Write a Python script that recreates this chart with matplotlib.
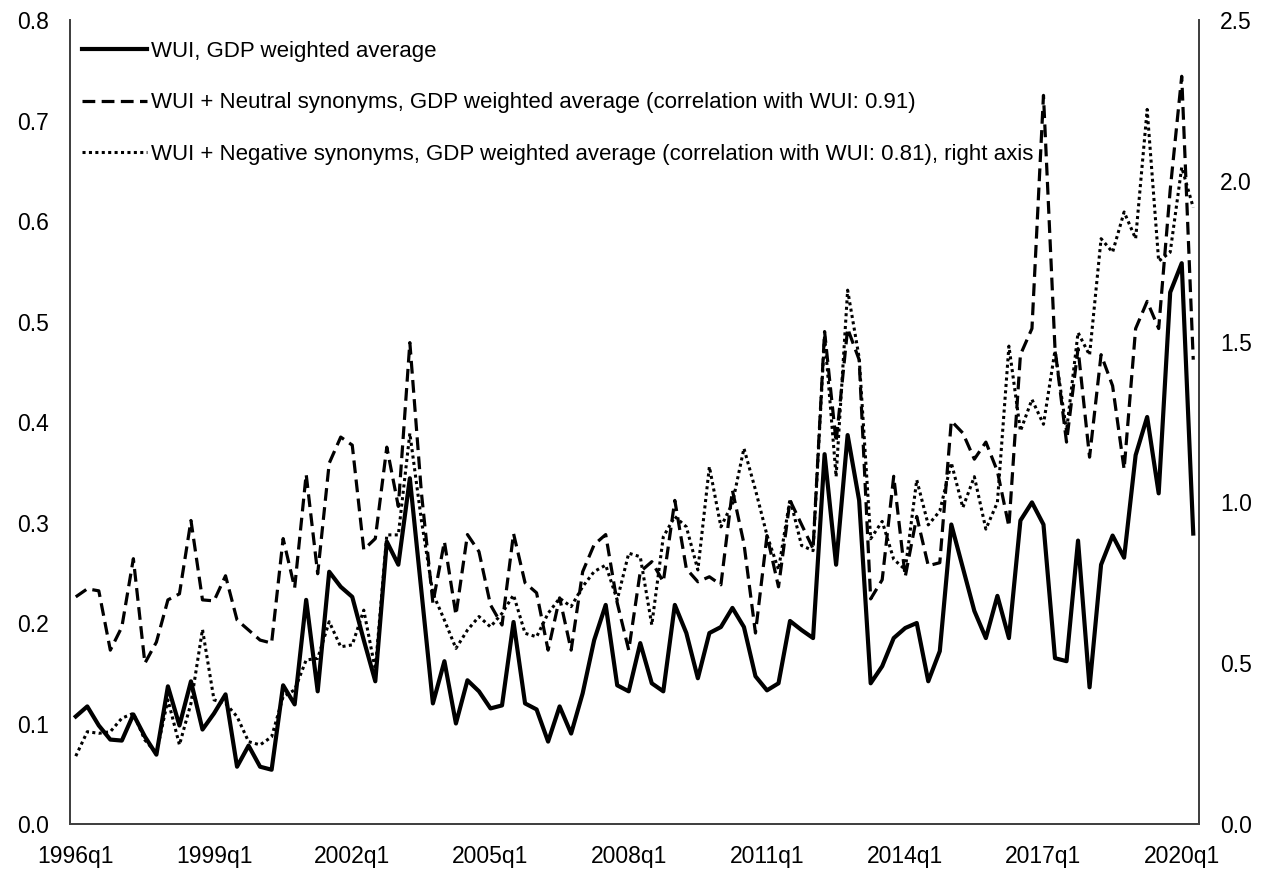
import matplotlib.pyplot as plt
import numpy as np

plt.rcParams['font.family'] = ['Liberation Sans', 'DejaVu Sans']

# quarterly categories, 1996q1 .. 2020q2
quarters = [f"{y}q{q}" for y in range(1996, 2021) for q in range(1, 5)][:98]

# WUI, GDP weighted average (left axis)
wui = [0.107, 0.117, 0.098, 0.084, 0.083, 0.109, 0.087, 0.069, 0.137, 0.098,
       0.142, 0.094, 0.110, 0.129, 0.057, 0.078, 0.057, 0.054, 0.138, 0.119,
       0.223, 0.132, 0.251, 0.236, 0.226, 0.183, 0.142, 0.281, 0.258, 0.344,
       0.232, 0.120, 0.162, 0.100, 0.143, 0.132, 0.115, 0.118, 0.201, 0.120,
       0.114, 0.082, 0.117, 0.090, 0.130, 0.183, 0.218, 0.138, 0.132, 0.180,
       0.140, 0.132, 0.218, 0.190, 0.145, 0.190, 0.196, 0.215, 0.196, 0.147,
       0.133, 0.140, 0.202, 0.193, 0.185, 0.368, 0.258, 0.387, 0.322, 0.140,
       0.157, 0.185, 0.195, 0.200, 0.142, 0.172, 0.298, 0.255, 0.212, 0.185,
       0.227, 0.185, 0.302, 0.320, 0.298, 0.165, 0.162, 0.282, 0.136, 0.258,
       0.287, 0.265, 0.367, 0.405, 0.329, 0.529, 0.558, 0.289]

# WUI + neutral synonyms (left axis)
wui_neutral = [0.226, 0.234, 0.232, 0.173, 0.196, 0.264, 0.160, 0.181, 0.223, 0.229,
               0.302, 0.223, 0.222, 0.247, 0.203, 0.193, 0.183, 0.180, 0.284, 0.235,
               0.348, 0.249, 0.359, 0.385, 0.377, 0.273, 0.284, 0.375, 0.316, 0.479,
               0.330, 0.220, 0.281, 0.208, 0.288, 0.271, 0.218, 0.198, 0.289, 0.240,
               0.230, 0.173, 0.225, 0.173, 0.251, 0.278, 0.288, 0.220, 0.173, 0.251,
               0.261, 0.241, 0.322, 0.254, 0.241, 0.246, 0.238, 0.332, 0.279, 0.190,
               0.287, 0.236, 0.322, 0.298, 0.274, 0.490, 0.380, 0.493, 0.462, 0.224,
               0.243, 0.346, 0.246, 0.306, 0.257, 0.260, 0.401, 0.389, 0.363, 0.380,
               0.351, 0.296, 0.467, 0.493, 0.725, 0.473, 0.380, 0.473, 0.365, 0.467,
               0.436, 0.353, 0.493, 0.520, 0.493, 0.631, 0.744, 0.462]

# WUI + negative synonyms (right axis)
wui_negative = [0.211, 0.287, 0.282, 0.287, 0.329, 0.344, 0.261, 0.220, 0.386, 0.246,
                0.375, 0.605, 0.386, 0.375, 0.334, 0.256, 0.246, 0.271, 0.396, 0.417,
                0.510, 0.515, 0.629, 0.551, 0.557, 0.665, 0.480, 0.899, 0.899, 1.215,
                0.945, 0.717, 0.634, 0.546, 0.603, 0.645, 0.613, 0.655, 0.712, 0.593,
                0.582, 0.655, 0.702, 0.676, 0.738, 0.785, 0.805, 0.697, 0.842, 0.831,
                0.619, 0.893, 0.956, 0.924, 0.790, 1.111, 0.924, 0.997, 1.168, 1.039,
                0.898, 0.791, 1.011, 0.866, 0.850, 1.520, 1.080, 1.660, 1.450, 0.887,
                0.941, 0.823, 0.791, 1.070, 0.930, 0.973, 1.123, 0.984, 1.080, 0.917,
                1.000, 1.486, 1.222, 1.320, 1.243, 1.472, 1.222, 1.528, 1.458, 1.820,
                1.778, 1.903, 1.820, 2.222, 1.750, 1.778, 2.042, 1.917]

tick_labels = ["1996q1", "1999q1", "2002q1", "2005q1", "2008q1",
               "2011q1", "2014q1", "2017q1", "2020q1"]
left_ticks = [0.0, 0.1, 0.2, 0.3, 0.4, 0.5, 0.6, 0.7, 0.8]
right_ticks = [0.0, 0.5, 1.0, 1.5, 2.0, 2.5]

labels = ["WUI, GDP weighted average",
          "WUI + Neutral synonyms, GDP weighted average (correlation with WUI: 0.91)",
          "WUI + Negative synonyms, GDP weighted average (correlation with WUI: 0.81), right axis"]

x = np.arange(len(quarters))
fs = 16.5

fig, ax = plt.subplots(figsize=(12.67, 8.71), dpi=100)
fig.subplots_adjust(left=70 / 1267, right=1199 / 1267,
                    bottom=1 - 824 / 871, top=1 - 20 / 871)
ax2 = ax.twinx()

l1, = ax.plot(x, wui, color='black', lw=3.0)
l2, = ax.plot(x, wui_neutral, color='black', lw=2.3, linestyle=(0, (4, 2)))
l3, = ax2.plot(x, wui_negative, color='black', lw=2.2, linestyle=(0, (1, 1.1)))

ax.set_xlim(-0.5, len(quarters) - 0.5)
ax.set_ylim(0, 0.8)
ax2.set_ylim(0, 2.5)

tick_pos = [quarters.index(t) for t in tick_labels]
ax.set_xticks(tick_pos)
ax.set_xticklabels(tick_labels)
ax.set_yticks(left_ticks)
ax.set_yticklabels([f"{v:.1f}" for v in left_ticks])
ax2.set_yticks(right_ticks)
ax2.set_yticklabels([f"{v:.1f}" for v in right_ticks])

for a in (ax, ax2):
    a.tick_params(length=0, labelsize=fs, colors='black', pad=15)
    a.spines['top'].set_visible(False)
    for s in ('left', 'right', 'bottom'):
        a.spines[s].set_color('#404040')
        a.spines[s].set_linewidth(1.3)

ax2.legend([l1, l2, l3], labels, loc='upper left', bbox_to_anchor=(0, 0.989),
           frameon=False, fontsize=16, handlelength=2.9, handletextpad=0.2,
           labelspacing=1.36, borderpad=0.2, borderaxespad=0.35)

fig.savefig('out.png', dpi=100)
